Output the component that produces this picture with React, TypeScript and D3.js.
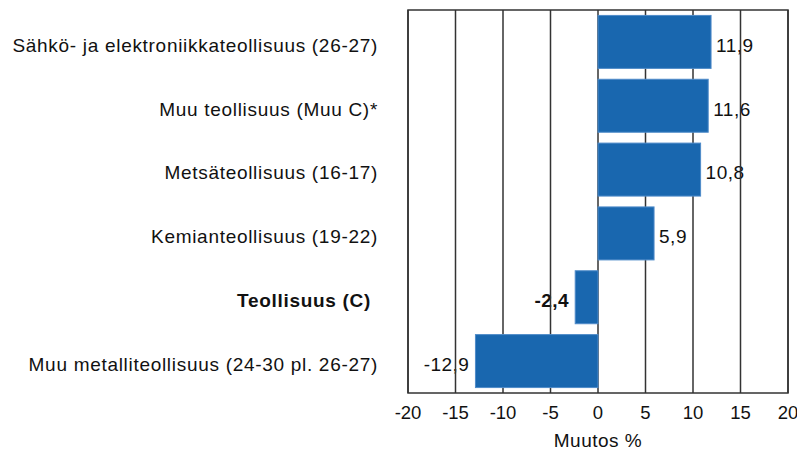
import React from "react";
import { scaleLinear, scaleBand } from "d3";

const width = 797;
const height = 450;
const plot = { left: 408, right: 788, top: 10, bottom: 393 };

const categories = [
  "Sähkö- ja elektroniikkateollisuus (26-27)",
  "Muu teollisuus (Muu C)*",
  "Metsäteollisuus (16-17)",
  "Kemianteollisuus (19-22)",
  "Teollisuus (C)",
  "Muu metalliteollisuus (24-30 pl. 26-27)",
];
const values = [11.9, 11.6, 10.8, 5.9, -2.4, -12.9];
const boldCategories = ["Teollisuus (C)"];
const xDomain = [-20, 20];
const axisTitle = "Muutos %";

const font = "'Liberation Sans', Arial, sans-serif";
const barColor = "#1967af";
const gridColor = "#333";

const fmt = (v) => v.toFixed(1).replace(".", ",");

export default function App() {
  const xScale = scaleLinear().domain(xDomain).range([plot.left, plot.right]);
  const yScale = scaleBand()
    .domain(categories)
    .range([plot.top, plot.bottom])
    .paddingInner(0.17)
    .paddingOuter(0.085);

  const ticks = xScale.ticks(8);
  const rows = categories.map((c, i) => ({ c, v: values[i], bold: boldCategories.includes(c) }));

  return (
    <svg
      width={width}
      height={height}
      style={{ position: "absolute", left: 0, top: 0, background: "#fff" }}
      fontFamily={font}
    >
      {/* category labels */}
      {rows.map((d) => (
        <text
          key={"c" + d.c}
          x={d.bold ? 371 : 378}
          y={yScale(d.c) + yScale.bandwidth() / 2}
          dy="0.52em"
          textAnchor="end"
          fontSize={19}
          letterSpacing={0.7}
          fontWeight={d.bold ? "bold" : "normal"}
          fill="#111"
        >
          {d.c}
        </text>
      ))}

      {/* value labels (sit under the grid lines like the original) */}
      {rows.map((d) => (
        <text
          key={"v" + d.c}
          x={d.v >= 0 ? xScale(d.v) + 5 : xScale(d.v) - 6}
          y={yScale(d.c) + yScale.bandwidth() / 2}
          dy="0.52em"
          textAnchor={d.v >= 0 ? "start" : "end"}
          fontSize={19}
          letterSpacing={0.5}
          fontWeight={d.bold ? "bold" : "normal"}
          fill="#111"
        >
          {fmt(d.v)}
        </text>
      ))}

      {/* grid + frame */}
      {ticks.map((t) => (
        <line
          key={"g" + t}
          x1={xScale(t)}
          x2={xScale(t)}
          y1={plot.top}
          y2={plot.bottom}
          stroke={gridColor}
          strokeWidth={1.5}
        />
      ))}
      <rect
        x={plot.left}
        y={plot.top}
        width={plot.right - plot.left}
        height={plot.bottom - plot.top}
        fill="none"
        stroke={gridColor}
        strokeWidth={1.5}
      />

      {/* bars */}
      {rows.map((d) => (
        <rect
          key={"b" + d.c}
          x={Math.min(xScale(0), xScale(d.v))}
          y={yScale(d.c)}
          width={Math.abs(xScale(d.v) - xScale(0))}
          height={yScale.bandwidth()}
          fill={barColor}
          stroke="#4f8bc9"
          strokeWidth={1}
        />
      ))}

      {/* x tick labels */}
      {ticks.map((t) => (
        <text
          key={"t" + t}
          x={xScale(t)}
          y={419}
          textAnchor="middle"
          fontSize={18.5}
          fill="#111"
        >
          {String(t)}
        </text>
      ))}
      <text
        x={xScale(0)}
        y={447}
        textAnchor="middle"
        fontSize={19}
        letterSpacing={0.5}
        fill="#111"
      >
        {axisTitle}
      </text>
    </svg>
  );
}
